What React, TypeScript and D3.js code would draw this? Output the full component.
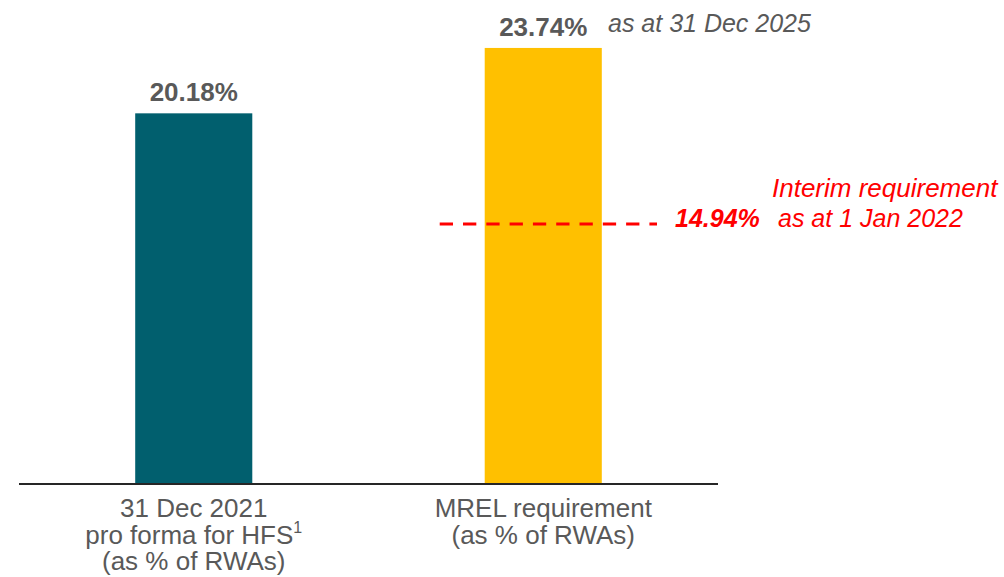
import React from "react";
import * as d3 from "d3";

const categories = ["31 Dec 2021 pro forma", "MREL requirement"];
const categoryLines: string[][] = [
  ["31 Dec 2021", "pro forma for HFS", "(as % of RWAs)"],
  ["MREL requirement", "(as % of RWAs)"],
];
const values = [20.18, 23.74];
const valueLabels = ["20.18%", "23.74%"];
const barColors = ["#015F6E", "#FFC000"];
const interimLabel = "14.94%";
const interimLineLevel = 14.15; // visual position of the dashed line
const interimText = ["Interim requirement", "as at 1 Jan 2022"];
const targetText = "as at 31 Dec 2025";

const W = 1004;
const H = 577;
const FONT = "'Liberation Sans', Arial, sans-serif";
const GRAY = "#595959";

export default function App() {
  const x = d3
    .scaleBand<string>()
    .domain(categories)
    .range([19, 718])
    .paddingInner(0.665)
    .paddingOuter(0.3325);
  const y = d3.scaleLinear().domain([0, 26.35]).range([484, 0]);

  const lineY = y(interimLineLevel);
  const b2 = x(categories[1])!;

  return (
    <svg
      width={W}
      height={H}
      style={{ position: "absolute", left: 0, top: 0, background: "#fff" }}
      fontFamily={FONT}
    >
      {categories.map((c, i) => (
        <rect
          key={c}
          x={x(c)}
          y={y(values[i])}
          width={x.bandwidth()}
          height={y(0) - y(values[i])}
          fill={barColors[i]}
        />
      ))}
      {categories.map((c, i) => (
        <text
          key={"v" + c}
          x={x(c)! + x.bandwidth() / 2}
          y={y(values[i]) - 12}
          textAnchor="middle"
          fontSize={26}
          fontWeight="bold"
          fill={GRAY}
        >
          {valueLabels[i]}
        </text>
      ))}
      <text x={608} y={32} fontSize={25} fontStyle="italic" fill={GRAY}>
        {targetText}
      </text>

      {/* axis */}
      <line x1={19} x2={718} y1={y(0)} y2={y(0)} stroke="#262626" strokeWidth={2} />

      {/* interim dashed line */}
      <line
        x1={b2 - 45}
        x2={657}
        y1={lineY}
        y2={lineY}
        stroke="#FF0000"
        strokeWidth={3}
        strokeDasharray="13.3 10"
      />
      <text
        x={675}
        y={lineY + 3}
        fontSize={25}
        fontWeight="bold"
        fontStyle="italic"
        fill="#FF0000"
      >
        {interimLabel}
      </text>
      <text x={772} y={197} fontSize={26} fontStyle="italic" fill="#FF0000">
        {interimText[0]}
      </text>
      <text x={778} y={lineY + 3} fontSize={25} fontStyle="italic" fill="#FF0000">
        {interimText[1]}
      </text>

      {/* category labels */}
      {categories.map((c, i) => (
        <text
          key={"c" + c}
          x={x(c)! + x.bandwidth() / 2}
          y={517}
          textAnchor="middle"
          fontSize={26}
          fill={GRAY}
        >
          {categoryLines[i].map((l, j) => (
            <tspan key={j} x={x(c)! + x.bandwidth() / 2} y={517 + j * 26.6}>
              {l}
              {i === 0 && j === 1 ? (
                <tspan fontSize={16} dy={-11}>
                  1
                </tspan>
              ) : null}
            </tspan>
          ))}
        </text>
      ))}
    </svg>
  );
}
